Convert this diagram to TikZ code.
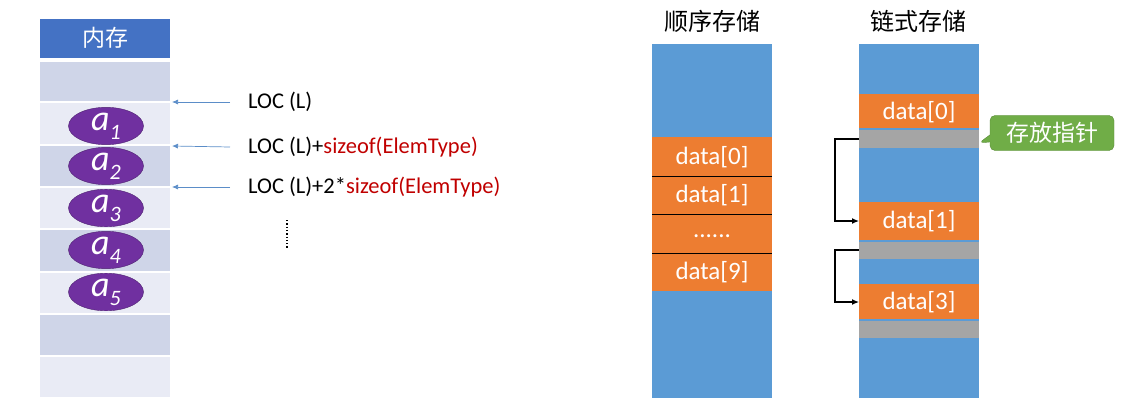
\documentclass[tikz,border=0pt]{standalone}
\usepackage{fontspec}
\setmainfont{Carlito}
\newfontfamily\cjk{Noto Sans CJK SC}
\usetikzlibrary{shapes.geometric,shapes.callouts,arrows.meta}
\definecolor{hdr}{HTML}{4472C4}
\definecolor{rowA}{HTML}{CFD5E8}
\definecolor{rowB}{HTML}{E9EBF5}
\definecolor{pur}{HTML}{7030A0}
\definecolor{bl}{HTML}{5B9BD5}
\definecolor{org}{HTML}{ED7D31}
\definecolor{gr}{HTML}{A5A5A5}
\definecolor{grn}{HTML}{70AD47}
\definecolor{arr}{HTML}{5B8DC8}
\definecolor{dred}{HTML}{C00000}
\tikzset{
 cell/.style={inner sep=0pt,outer sep=0pt},
 elem/.style={ellipse,fill=pur,draw=pur!70!black,minimum width=75pt,minimum height=36pt,inner sep=0pt,text=white,font=\fontsize{36}{36}\selectfont\itshape},
 lbl/.style={anchor=west,font=\fontsize{22.5}{22.5}\selectfont,inner sep=0pt},
 dat/.style={text=white,font=\fontsize{25}{25}\selectfont},
 ptr/.style={-{Latex[length=7pt,width=6pt]},line width=1.3pt,black},
 addr/.style={-{Latex[length=6pt,width=5pt]},arr,line width=0.7pt}
}
\newcommand\subn[1]{\raisebox{-9pt}{\fontsize{22}{22}\selectfont #1}}
\begin{document}
\begin{tikzpicture}[x=1pt,y=-1pt]
\useasboundingbox (0,0) rectangle (1134,409);
% memory column
\fill[hdr] (40,19) rectangle (170,58);
\node[cell,text=white,font=\cjk\fontsize{23}{23}\selectfont] (mem) at (105,38) {内存};
\foreach \a/\b/\c in {62/101/rowA,103/144/rowB,146/186/rowA,188/228/rowB,230/271/rowA,273/313/rowB,315/355/rowA,357/397/rowB}
  \fill[\c] (40,\a) rectangle (170,\b);
\coordinate (m1) at (172,102);
\coordinate (m2) at (172,146);
\coordinate (m3) at (172,187);
\node[elem] (a1) at (106,126) {a\subn{1}};
\node[elem] (a2) at (106,166) {a\subn{2}};
\node[elem] (a3) at (106,208) {a\subn{3}};
\node[elem] (a4) at (106,250) {a\subn{4}};
\node[elem] (a5) at (106,292) {a\subn{5}};
\node[lbl] (l1) at (248,102) {LOC (L)};
\node[lbl] (l2) at (248,147) {LOC (L)+\textcolor{dred}{sizeof(ElemType)}};
\node[lbl] (l3) at (248,187) {LOC (L)+2*\textcolor{dred}{sizeof(ElemType)}};
\draw[addr] (230,102) -- (m1);
\draw[addr] (230,147) -- (m2);
\draw[addr] (230,187) -- (m3);
\draw[line width=1.3pt,dash pattern=on 1.3pt off 2pt] (287,220) -- (287,249);
% sequential
\node[cell,font=\cjk\fontsize{24}{24}\selectfont] (t1) at (712,21) {顺序存储};
\fill[bl] (652,44) rectangle (772,398);
\fill[org] (652,137) rectangle (772,291);
\foreach \y in {176,214,253} \draw[black,thick] (652,\y) -- (772,\y);
\node[dat] (s0) at (712,157) {data[0]};
\node[dat] (s1) at (712,195) {data[1]};
\node[dat] (s2) at (712,236) {......};
\node[dat] (s9) at (712,272) {data[9]};
% linked
\node[cell,font=\cjk\fontsize{24}{24}\selectfont] (t2) at (918,21) {链式存储};
\fill[bl] (859,44) rectangle (979,398);
\fill[org] (859,94) rectangle (979,128);
\fill[gr] (859,130) rectangle (979,148);
\fill[org] (859,202) rectangle (979,240);
\fill[gr] (859,242) rectangle (979,259);
\fill[org] (859,284) rectangle (979,319);
\fill[gr] (859,321) rectangle (979,338);
\node[dat] (d0) at (919,112) {data[0]};
\node[dat] (d1) at (919,221) {data[1]};
\node[dat] (d3) at (919,302) {data[3]};
\coordinate (p0) at (859,139);
\coordinate (p1) at (859,250);
\coordinate (q1) at (859,221);
\coordinate (q3) at (859,302);
\draw[ptr] (p0) -- (835,139) |- (q1);
\draw[ptr] (p1) -- (835,250) |- (q3);
\node[rectangle callout,rounded corners=5pt,fill=grn,draw=grn!80!black,text=white,minimum width=124pt,minimum height=35pt,font=\cjk\fontsize{23}{23}\selectfont,callout absolute pointer={(979,143)}] (cb) at (1052,133) {存放指针};
\end{tikzpicture}
\end{document}
